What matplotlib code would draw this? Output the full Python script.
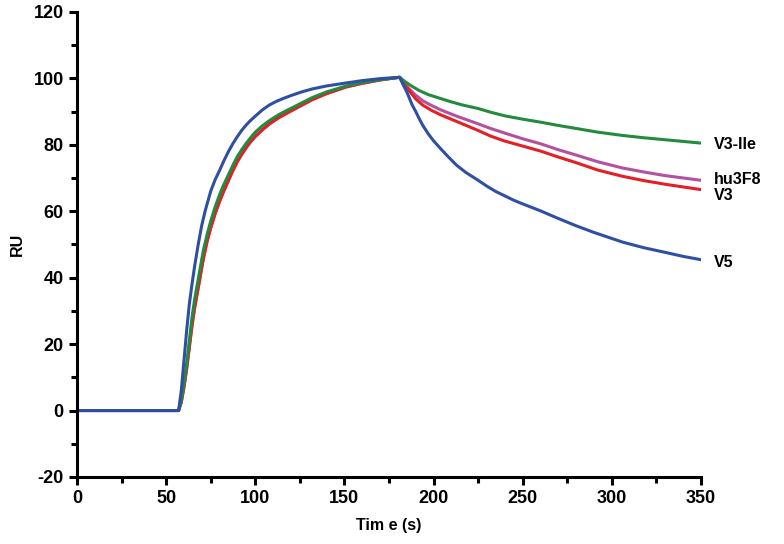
import matplotlib
matplotlib.use("Agg")
import matplotlib.pyplot as plt
from matplotlib.ticker import MultipleLocator

plt.rcParams['font.family'] = ['Liberation Sans', 'DejaVu Sans']
plt.rcParams['axes.unicode_minus'] = False

t_v5 = [0, 20, 40, 57, 58.5, 60, 61.5, 63, 64.5, 66, 68, 70, 72, 75, 77.5, 80, 82.5, 85, 87.5, 90, 92.5, 95, 97.5, 100,
        104, 108, 112, 116, 120, 126, 132, 140, 151, 160, 170, 178, 181,
        183, 185, 188, 190, 192, 194, 197, 200, 204, 208, 213, 218, 225, 230, 235, 245, 250, 260, 270, 280, 290,
        306, 318, 330, 340, 350]
ru_v5 = [0, 0, 0, 0, 6, 15, 24, 32, 38, 43.5, 50, 55.8, 60.3, 66, 69.5, 72.3, 75.3, 78, 80.4, 82.5, 84.4, 86, 87.4, 88.6,
         90.5, 92, 93.1, 94, 94.8, 95.9, 96.8, 97.7, 98.6, 99.3, 99.9, 100.2, 100.3,
         98, 95.9, 92, 90, 87.8, 85.8, 83.3, 81.2, 78.8, 76.5, 73.8, 71.7, 69.3, 67.5, 65.9, 63.3, 62.2, 60.1, 57.8,
         55.6, 53.6, 50.7, 49.0, 47.6, 46.4, 45.4]

t_ile = [0, 20, 40, 57, 58.5, 60, 61.5, 63, 64.5, 66, 68, 70.8, 73, 75, 77.5, 80, 82.5, 85, 87.5, 90, 92.5, 95, 97.5, 100,
         104, 108, 113, 118, 125, 132, 140, 151, 160, 170, 178, 181,
         184, 187, 192, 197, 204, 210, 216, 225, 232, 240, 250, 260, 270, 280, 292, 306, 318, 330, 340, 350]
ru_ile = [0, 0, 0, 0, 3, 8, 14, 21, 28, 33.5, 39.5, 48, 53, 57, 61.3, 65, 68.2, 71, 73.9, 76.5, 78.6, 80.5, 82.2, 83.8,
          85.7, 87.3, 89, 90.4, 92.3, 94.2, 95.9, 97.7, 98.7, 99.6, 100.1, 100.3,
          99, 97.9, 96.3, 95.1, 93.9, 92.9, 92.0, 90.9, 89.8, 88.7, 87.7, 86.8, 85.8, 84.9, 83.8, 82.8, 82.1, 81.5,
          81.0, 80.5]

t_hu = [0, 20, 40, 57, 58.5, 60, 61.5, 63, 64.5, 66, 68, 70.8, 73, 75, 77.5, 80, 82.5, 85, 87.5, 90, 92.5, 95, 97.5, 100,
        104, 108, 113, 118, 125, 132, 140, 151, 160, 170, 178, 181,
        183, 186, 190, 194, 199, 204, 213, 225, 232, 240, 250, 260, 270, 280, 292, 306, 318, 330, 340, 350]
ru_hu = [0, 0, 0, 0, 2.5, 7, 12.5, 19, 25.5, 31, 37, 45.5, 51, 55, 59.3, 63, 66.3, 69.3, 72.3, 75, 77.2, 79.2, 81, 82.5,
         84.5, 86.3, 88.1, 89.6, 91.6, 93.6, 95.4, 97.4, 98.5, 99.5, 100.1, 100.3,
         98.8, 97, 94.9, 93.2, 91.8, 90.5, 88.6, 86.3, 84.9, 83.5, 81.8, 80.3, 78.5, 76.9, 74.9, 73.0, 71.8, 70.7,
         70.0, 69.3]

t_v3 = [0, 20, 40, 57, 58.5, 60, 61.5, 63, 64.5, 66, 68, 70.8, 73, 75, 77.5, 80, 82.5, 85, 87.5, 90, 92.5, 95, 97.5, 100,
        104, 108, 113, 118, 125, 132, 140, 151, 160, 170, 178, 181,
        183, 186, 190, 194, 199, 204, 213, 225, 232, 240, 250, 260, 270, 280, 292, 306, 318, 330, 340, 350]
ru_v3 = [0, 0, 0, 0, 2.5, 7, 12.5, 19, 25.5, 31, 37, 45.5, 51, 55, 59.3, 63, 66.3, 69.3, 72.3, 75, 77.2, 79.2, 81, 82.5,
         84.5, 86.3, 88.1, 89.6, 91.6, 93.6, 95.4, 97.4, 98.5, 99.5, 100.1, 100.3,
         98.5, 96.5, 93.8, 91.9, 90.3, 89.0, 87.0, 84.3, 82.6, 81.1, 79.6, 78.1, 76.3, 74.6, 72.4, 70.5, 69.2, 68.1,
         67.3, 66.5]

series = [
    ("hu3F8", t_hu, ru_hu, "#b4519f"),
    ("V3", t_v3, ru_v3, "#e41f26"),
    ("V3-Ile", t_ile, ru_ile, "#238b3c"),
    ("V5", t_v5, ru_v5, "#2f4fa2"),
]
label_y = {"V3-Ile": 80.2, "hu3F8": 69.6, "V3": 64.8, "V5": 44.6}

fig = plt.figure(figsize=(7.84, 5.44), dpi=100)
ax = fig.add_axes([0.0982, 0.1232, 0.7959, 0.855])

for name, t, ru, c in series:
    ax.plot(t, ru, color=c, lw=2.2, solid_joinstyle='round')
    ax.text(357, label_y[name], name, fontsize=11.5, fontweight='bold', va='center', ha='left')

ax.set_xlim(0, 350)
ax.set_ylim(-20, 120)
ax.xaxis.set_major_locator(MultipleLocator(50))
ax.xaxis.set_minor_locator(MultipleLocator(25))
ax.yaxis.set_major_locator(MultipleLocator(20))
ax.yaxis.set_minor_locator(MultipleLocator(10))
for s in ['top', 'right']:
    ax.spines[s].set_visible(False)
for s in ['left', 'bottom']:
    ax.spines[s].set_linewidth(2.2)
ax.tick_params(which='major', length=6, width=2.2, labelsize=13, direction='out')
ax.tick_params(which='minor', length=4, width=2.2, direction='out')
for lbl in ax.get_xticklabels() + ax.get_yticklabels():
    lbl.set_fontweight('bold')
ax.set_xlabel("Tim e (s)", fontsize=11.5, fontweight='bold', labelpad=8)
ax.set_ylabel("RU", fontsize=11.5, fontweight='bold', labelpad=6)

fig.savefig("out.png", dpi=100)
